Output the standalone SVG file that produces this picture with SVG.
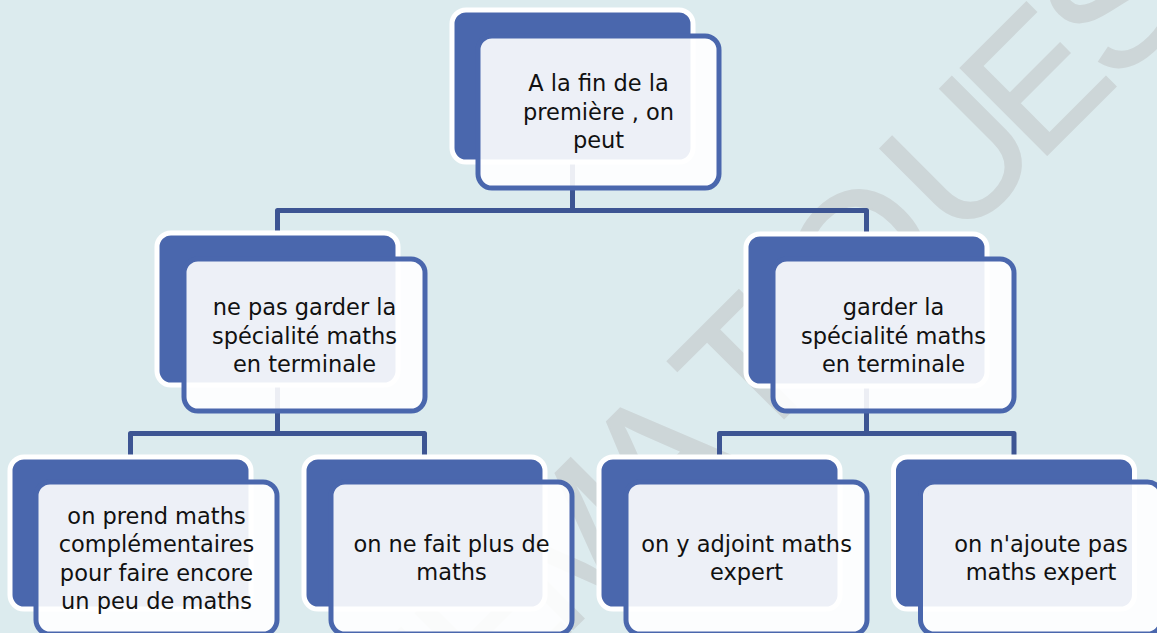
<svg xmlns="http://www.w3.org/2000/svg" width="1157" height="633" viewBox="0 0 1157 633">
<style>
.bg{fill:#dcebee}
.wm{font-family:"Liberation Sans",Arial,sans-serif;font-size:178px;fill:#cdd6d8;stroke:#cdd6d8;stroke-width:2;text-anchor:middle}
.conn{fill:none;stroke:#3d5593;stroke-width:5;stroke-linejoin:round}
.back{fill:#4a67ad;stroke:#ffffff;stroke-width:5}
.front{fill:#ffffff;fill-opacity:0.9;stroke:#4a67ad;stroke-width:5}
.lbl{font-family:"DejaVu Sans","Liberation Sans",sans-serif;font-size:22.5px;fill:#111111;text-anchor:middle}
</style>
<rect class="bg" x="0" y="0" width="1157" height="633"/>
<g id="watermark">
<text class="wm" transform="rotate(-45)" y="850" x="-560 -430 -322 -210 -95 20 140 267 350 429 568 676 785">MATHEMATIQUES</text>
</g>
<g id="connectors">
<path class="conn" d="M572.5,163 V210.5 M277.5,234 V210.5 H866.5 V234"/>
<path class="conn" d="M277.5,386 V433.5 M130.5,457 V433.5 H424.5 V457"/>
<path class="conn" d="M866.5,387 V433.5 M719.5,457 V433.5 H1014 V457"/>
</g>
<g id="node-root">
<rect class="back" x="452" y="10" width="241" height="152" rx="14"/>
<rect class="front" x="478" y="36" width="241" height="152" rx="14"/>
<text class="lbl"><tspan x="598.5" y="91">A la fin de la</tspan><tspan x="598.5" y="119.5">première , on</tspan><tspan x="598.5" y="148">peut</tspan></text>
</g>
<g id="node-no-spe">
<rect class="back" x="157" y="233" width="241" height="152" rx="14"/>
<rect class="front" x="184" y="259" width="241" height="152" rx="14"/>
<text class="lbl"><tspan x="304.5" y="315">ne pas garder la</tspan><tspan x="304.5" y="343.5">spécialité maths</tspan><tspan x="304.5" y="372">en terminale</tspan></text>
</g>
<g id="node-spe">
<rect class="back" x="746" y="234" width="241" height="152" rx="14"/>
<rect class="front" x="773" y="259" width="241" height="152" rx="14"/>
<text class="lbl"><tspan x="893.5" y="315">garder la</tspan><tspan x="893.5" y="343.5">spécialité maths</tspan><tspan x="893.5" y="372">en terminale</tspan></text>
</g>
<g id="node-comp">
<rect class="back" x="10" y="457" width="241" height="152" rx="14"/>
<rect class="front" x="36" y="482" width="241" height="152" rx="14"/>
<text class="lbl"><tspan x="156.5" y="523.5">on prend maths</tspan><tspan x="156.5" y="552">complémentaires</tspan><tspan x="156.5" y="580.5">pour faire encore</tspan><tspan x="156.5" y="608.5">un peu de maths</tspan></text>
</g>
<g id="node-none">
<rect class="back" x="304" y="457" width="241" height="152" rx="14"/>
<rect class="front" x="331" y="482" width="241" height="152" rx="14"/>
<text class="lbl"><tspan x="451.5" y="552">on ne fait plus de</tspan><tspan x="451.5" y="580">maths</tspan></text>
</g>
<g id="node-expert">
<rect class="back" x="599" y="457" width="241" height="152" rx="14"/>
<rect class="front" x="626" y="482" width="241" height="152" rx="14"/>
<text class="lbl"><tspan x="746.5" y="552">on y adjoint maths</tspan><tspan x="746.5" y="580">expert</tspan></text>
</g>
<g id="node-no-expert">
<rect class="back" x="893.5" y="457" width="241" height="152" rx="14"/>
<rect class="front" x="920.5" y="482" width="241" height="152" rx="14"/>
<text class="lbl"><tspan x="1041" y="552">on n'ajoute pas</tspan><tspan x="1041" y="580">maths expert</tspan></text>
</g>
</svg>
